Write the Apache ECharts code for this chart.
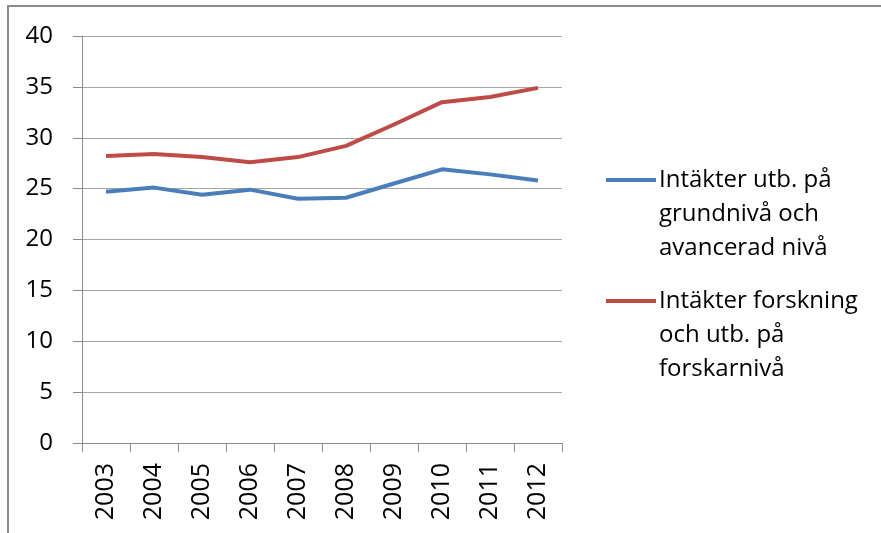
<!DOCTYPE html>
<html>
<head>
<meta charset="utf-8">
<script src="https://cdn.jsdelivr.net/npm/echarts@6/dist/echarts.min.js"></script>
<style>
  html, body { margin: 0; padding: 0; background: #fff; }
  #chart { width: 881px; height: 533px; }
</style>
</head>
<body>
<div id="chart"></div>
<script>
var years = ['2003', '2004', '2005', '2006', '2007', '2008', '2009', '2010', '2011', '2012']
var grundniva = [24.7, 25.1, 24.4, 24.9, 24.0, 24.1, 25.5, 26.9, 26.4, 25.8]
var forskarniva = [28.2, 28.4, 28.1, 27.6, 28.1, 29.2, 31.3, 33.5, 34.0, 34.9]
var nameGrund = 'Intäkter utb. på\ngrundnivå och\navancerad nivå'
var nameForsk = 'Intäkter forskning\noch utb. på\nforskarnivå'

var font = 'Open Sans'
var chart = echarts.init(document.getElementById('chart'))

// legend icon sits on the first text line, so pad two empty lines above
function legendFor(name, top) {
  return {
    orient: 'vertical',
    left: 601,
    top: top,
    itemWidth: 50,
    itemHeight: 4,
    itemGap: 0,
    icon: 'rect',
    data: [name],
    selectedMode: false,
    formatter: function (n) { return '\n\n' + n },
    textStyle: {
      fontFamily: font,
      fontSize: 24,
      lineHeight: 34,
      color: '#000',
      padding: [0, 0, 0, -2]
    }
  }
}

chart.setOption({
  backgroundColor: '#fff',
  animation: false,
  graphic: [{
    type: 'rect',
    shape: { x: 8, y: 6, width: 900, height: 600 },
    style: { fill: 'none', stroke: '#8c8c8c', lineWidth: 2 }
  }],
  legend: [legendFor(nameGrund, 175 - 85), legendFor(nameForsk, 296 - 85)],
  grid: {
    left: 82,
    right: 319,
    top: 36,
    bottom: 90,
    containLabel: false
  },
  xAxis: {
    type: 'category',
    data: years,
    axisLine: { lineStyle: { color: '#8c8c8c', width: 1 } },
    axisTick: { show: true, length: 9, lineStyle: { color: '#8c8c8c' } },
    axisLabel: {
      rotate: 90,
      margin: 20,
      fontFamily: font,
      fontSize: 25,
      color: '#000'
    }
  },
  yAxis: {
    type: 'value',
    min: 0,
    max: 40,
    interval: 5,
    axisLine: { show: true, lineStyle: { color: '#8c8c8c', width: 1 } },
    axisTick: { show: true, length: 9, lineStyle: { color: '#8c8c8c' } },
    splitLine: { lineStyle: { color: '#a6a6a6', width: 1 } },
    axisLabel: {
      margin: 29,
      fontFamily: font,
      fontSize: 24,
      color: '#000'
    }
  },
  series: [{
    name: nameGrund,
    type: 'line',
    data: grundniva,
    symbol: 'none',
    lineStyle: { color: '#4a7ebb', width: 4 },
    itemStyle: { color: '#4a7ebb' }
  }, {
    name: nameForsk,
    type: 'line',
    data: forskarniva,
    symbol: 'none',
    lineStyle: { color: '#be4b48', width: 4 },
    itemStyle: { color: '#be4b48' }
  }]
})
</script>
</body>
</html>
